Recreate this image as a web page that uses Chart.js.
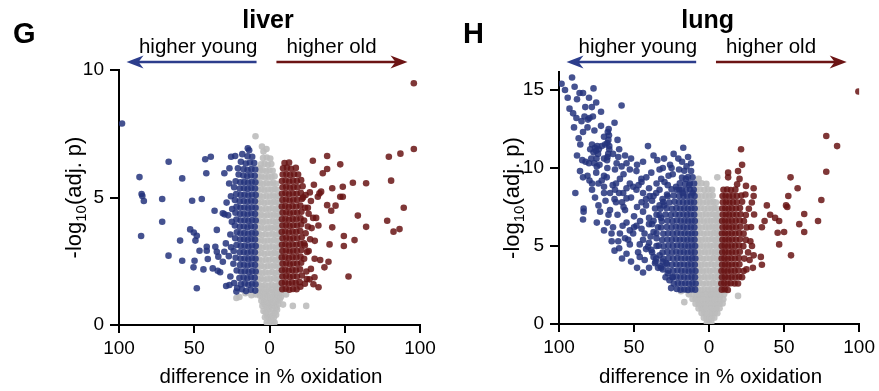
<!DOCTYPE html>
<html>
<head>
<meta charset="utf-8">
<script src="https://cdn.jsdelivr.net/npm/chart.js@4.4.1/dist/chart.umd.min.js"></script>
<style>
  html, body { margin: 0; padding: 0; background: #fff; }
  #wrap { position: relative; width: 879px; height: 391px; overflow: hidden; background: #fff; }
  #wrap canvas { position: absolute; top: 0; }
</style>
</head>
<body>
<div id="wrap">
  <canvas id="liverChart" width="440" height="391" style="left:0px"></canvas>
  <canvas id="lungChart" width="439" height="391" style="left:440px"></canvas>
</div>
<script>
// Axis ticks (both panels)
const xTicks = [-100, -50, 0, 50, 100];
const liverYTicks = [0, 5, 10];
const lungYTicks = [0, 5, 10, 15];

// ---------- liver: [difference in % oxidation, -log10(adj. p)] ----------
const liverYoung = [
  [-9.5,1.35],[-12.4,1.38],[-15.6,1.33],[-18.3,1.4],[-21.5,1.45],
  [-9.3,1.6],[-11.6,1.62],[-14.0,1.58],[-16.5,1.63],[-19.0,1.6],[-23.5,1.65],
  [-9.8,1.85],[-12.2,1.87],[-14.7,1.83],[-17.2,1.86],[-20.0,1.84],[-26.0,1.9],
  [-9.2,2.1],[-11.5,2.12],[-13.9,2.08],[-16.4,2.11],[-18.9,2.1],[-21.8,2.14],
  [-9.6,2.35],[-12.0,2.37],[-14.5,2.33],[-17.0,2.36],[-19.6,2.35],[-24.0,2.4],
  [-9.3,2.6],[-11.7,2.62],[-14.1,2.58],[-16.6,2.61],[-19.2,2.6],[-22.5,2.64],[-27.0,2.7],
  [-9.7,2.85],[-12.1,2.87],[-14.6,2.83],[-17.1,2.86],[-19.8,2.85],[-23.8,2.9],
  [-9.2,3.1],[-11.6,3.12],[-14.0,3.08],[-16.5,3.11],[-19.1,3.1],[-21.9,3.14],[-25.5,3.05],
  [-9.6,3.35],[-12.0,3.37],[-14.4,3.33],[-16.9,3.36],[-19.5,3.35],[-22.8,3.4],
  [-9.3,3.6],[-11.7,3.62],[-14.2,3.58],[-16.7,3.61],[-19.3,3.6],[-21.7,3.64],[-26.0,3.55],
  [-9.8,3.85],[-12.2,3.87],[-14.6,3.83],[-17.1,3.86],[-19.7,3.85],[-23.0,3.9],
  [-9.2,4.1],[-11.6,4.12],[-14.1,4.08],[-16.6,4.11],[-19.2,4.1],[-22.0,4.14],[-25.0,4.05],
  [-9.6,4.35],[-12.0,4.37],[-14.5,4.33],[-17.0,4.36],[-19.6,4.35],[-22.6,4.4],[-27.5,4.3],
  [-9.3,4.6],[-11.8,4.62],[-14.2,4.58],[-16.7,4.61],[-19.3,4.6],[-21.9,4.64],[-24.8,4.55],
  [-9.7,4.85],[-12.1,4.87],[-14.6,4.83],[-17.1,4.86],[-19.8,4.85],[-23.0,4.9],[-28.5,4.8],
  [-9.2,5.1],[-11.7,5.12],[-14.1,5.08],[-16.6,5.11],[-19.2,5.1],[-22.1,5.14],[-25.6,5.05],
  [-9.6,5.35],[-12.0,5.37],[-14.5,5.33],[-17.0,5.36],[-19.7,5.35],[-23.5,5.4],
  [-9.4,5.6],[-11.8,5.62],[-14.3,5.58],[-16.8,5.61],[-19.4,5.6],[-22.5,5.64],[-26.8,5.55],
  [-9.8,5.85],[-12.3,5.87],[-14.8,5.83],[-17.4,5.86],[-20.5,5.9],
  [-9.5,6.1],[-12.0,6.12],[-14.6,6.08],[-17.3,6.11],[-21.0,6.15],
  [-10.2,6.35],[-13.0,6.37],[-15.8,6.33],[-19.0,6.4],
  [-11.5,6.6],[-14.6,6.62],[-13.5,6.85],
  [-98,7.9],[-67,6.4],[-86.4,5.8],[-58,5.75],[-42.7,6.5],[-39,6.6],[-42,5.95],
  [-25.5,6.6],[-22.8,6.63],[-18.1,6.7],[-14.4,6.93],[-30,5.95],[-26.6,6.15],
  [-85,5.14],[-84.5,5.06],[-83.5,4.86],[-71.3,4.94],[-51.4,4.87],[-45,4.94],
  [-71.3,4.05],[-85.3,3.49],[-59.4,3.31],[-52.7,3.75],[-50.3,3.63],[-48.3,3.5],
  [-49.2,3.31],[-67.1,2.72],[-58,2.52],[-49.8,2.52],[-50.5,2.26],[-46.5,2.91],
  [-41.7,3.07],[-41.7,2.91],[-41,2.59],[-43.9,2.18],[-48.3,1.44],[-36.5,4.48],
  [-35,3.73],[-37.7,2.22],[-34.4,2.13],[-32.8,2.07],[-31,4.38],[-29.9,4.34],
  [-36,3.07],[-35,2.87],[-34,2.68],[-29,3.2],[-30,2.87],[-31,2.48],
  [-28.8,1.53],[-26.6,1.57],[-22,1.31]
];

const liverOld = [
  [8.5,1.4],[10.8,1.42],[13.2,1.38],[15.6,1.41],[18.0,1.4],[20.5,1.5],
  [8.2,1.65],[10.4,1.67],[12.7,1.63],[15.0,1.66],[17.4,1.65],[20.0,1.68],[23.5,1.62],
  [8.6,1.9],[10.9,1.92],[13.3,1.88],[15.7,1.91],[18.2,1.9],[21.5,1.94],
  [8.3,2.15],[10.5,2.17],[12.8,2.13],[15.2,2.16],[17.6,2.15],[20.3,2.18],[24.5,2.1],
  [8.7,2.4],[11.0,2.42],[13.4,2.38],[15.8,2.41],[18.3,2.4],[21.0,2.44],
  [8.2,2.65],[10.5,2.67],[12.9,2.63],[15.3,2.66],[17.8,2.65],[20.6,2.68],[23.0,2.6],
  [8.6,2.9],[10.9,2.92],[13.3,2.88],[15.7,2.91],[18.2,2.9],[21.2,2.94],[25.0,2.86],
  [8.3,3.15],[10.6,3.17],[13.0,3.13],[15.4,3.16],[17.9,3.15],[20.5,3.18],[23.5,3.12],
  [8.7,3.4],[11.0,3.42],[13.4,3.38],[15.8,3.41],[18.4,3.4],[21.4,3.44],[27.0,3.36],
  [8.2,3.65],[10.5,3.67],[12.9,3.63],[15.3,3.66],[17.8,3.65],[20.4,3.68],[24.0,3.6],
  [8.6,3.9],[10.9,3.92],[13.3,3.88],[15.8,3.91],[18.3,3.9],[21.0,3.94],[25.5,3.86],
  [8.3,4.15],[10.6,4.17],[13.0,4.13],[15.4,4.16],[17.9,4.15],[20.6,4.18],[23.0,4.1],[29.0,4.2],
  [8.7,4.4],[11.0,4.42],[13.4,4.38],[15.9,4.41],[18.4,4.4],[21.2,4.44],[26.0,4.36],
  [8.2,4.65],[10.5,4.67],[12.9,4.63],[15.3,4.66],[17.8,4.65],[20.5,4.68],[23.6,4.6],
  [8.6,4.9],[10.9,4.92],[13.3,4.88],[15.8,4.91],[18.3,4.9],[21.5,4.94],[27.5,4.86],
  [8.3,5.15],[10.6,5.17],[13.0,5.13],[15.5,5.16],[18.0,5.15],[20.8,5.18],[24.0,5.1],
  [8.7,5.4],[11.0,5.42],[13.5,5.38],[16.0,5.41],[18.6,5.4],[22.0,5.44],
  [8.3,5.65],[10.7,5.67],[13.1,5.63],[15.6,5.66],[18.2,5.65],[21.0,5.68],
  [8.8,5.9],[11.2,5.92],[13.7,5.88],[16.3,5.91],[19.0,5.9],
  [9.0,6.15],[11.6,6.17],[14.3,6.13],[17.5,6.16],[10.0,6.35],[13.0,6.37],
  [25.5,4.6],[28.0,3.8],[30.1,3.3],[26.0,2.9],[27.5,2.2],[24.8,1.8],[29.2,1.6],
  [31.0,4.2],[32.5,3.9],[26.8,5.2],[29.5,5.5],[23.0,3.2],[22.3,5.0],[30.0,2.6],
  [95.9,9.48],[95.9,6.9],[87,6.72],[79.3,6.6],[80.8,5.66],[28.8,6.44],[38.3,6.63],
  [47,6.3],[38.3,6.12],[35.4,5.95],[55.4,5.58],[64.2,5.56],[48.7,5.42],[41.7,5.36],
  [47,5.03],[48.7,5.03],[33.2,5.16],[32.1,5.03],[89.2,4.6],[78.2,4.09],[82.4,3.66],
  [86.4,3.76],[64.2,3.85],[58.7,4.29],[56.5,3.33],[49.4,3.49],[49.4,3.1],[52.5,1.9],
  [41.7,3.83],[39.9,3.16],[39.2,2.48],[33.7,2.55],[36.5,2.26],[38.3,4.7],[43.9,4.68],
  [41,4.48],[34.3,5.23],[32.6,1.48],[29.9,1.87],[26.6,1.79]
];

const liverNS = [
  [-1.8,0.1],[-0.4,0.05],[1.0,0.1],[2.3,0.15],[3.4,0.1],[0.3,0.2],
  [-3.0,0.3],[-1.5,0.35],[0.0,0.3],[1.6,0.35],[3.0,0.3],[4.4,0.4],
  [-4.0,0.55],[-2.6,0.5],[-1.0,0.6],[0.6,0.5],[2.1,0.6],[3.6,0.5],[5.0,0.6],
  [-4.7,0.75],[-3.2,0.8],[-1.6,0.7],[0.1,0.8],[1.5,0.75],[3.0,0.8],[4.5,0.7],[5.8,0.8],
  [15.5,0.75],[24.4,0.75],[9.0,0.8],
  [-5.4,0.95],[-3.8,0.9],[-2.2,1.0],[-0.6,0.9],[1.0,1.0],[2.6,0.9],[4.1,1.0],[5.6,0.95],[6.8,1.0],
  [-6.3,1.15],[-4.7,1.1],[-3.1,1.2],[-1.4,1.15],[0.2,1.1],[1.9,1.2],[3.5,1.1],[5.1,1.2],
  [6.5,1.15],[7.6,1.1],[-12.0,1.17],[-20.0,1.1],[-22.0,1.06],[-16.0,1.25],[-9.0,1.2],[11.0,1.2],
  [-7.2,1.35],[-5.6,1.3],[-3.9,1.4],[-2.2,1.3],[-0.5,1.35],[1.3,1.4],[3.0,1.3],[4.6,1.4],[6.1,1.35],[7.5,1.3],
  [-8.4,1.55],[-6.7,1.57],[-4.9,1.53],[-2.8,1.56],[-0.6,1.55],[1.6,1.58],[3.8,1.54],[5.6,1.56],[7.4,1.55],
  [-7.6,1.8],[-5.8,1.82],[-3.8,1.78],[-1.6,1.81],[0.6,1.8],[2.8,1.83],[4.7,1.79],[6.6,1.81],
  [-8.5,2.05],[-6.5,2.07],[-4.6,2.03],[-2.5,2.06],[-0.3,2.05],[1.9,2.08],[4.0,2.04],[5.8,2.06],[7.5,2.05],
  [-7.7,2.3],[-5.6,2.32],[-3.5,2.28],[-1.3,2.31],[0.9,2.3],[3.0,2.33],[4.9,2.29],[6.7,2.31],
  [-8.6,2.55],[-6.8,2.57],[-4.7,2.53],[-2.4,2.56],[-0.1,2.55],[2.1,2.58],[4.1,2.54],[5.9,2.56],[7.6,2.55],
  [-7.5,2.8],[-5.5,2.82],[-3.4,2.78],[-1.2,2.81],[1.0,2.8],[3.1,2.83],[5.0,2.79],[6.8,2.81],
  [-8.4,3.05],[-6.6,3.07],[-4.5,3.03],[-2.3,3.06],[0.0,3.05],[2.2,3.08],[4.2,3.04],[6.0,3.06],[7.5,3.05],
  [-7.8,3.3],[-5.7,3.32],[-3.6,3.28],[-1.4,3.31],[0.8,3.3],[2.9,3.33],[4.9,3.29],[6.6,3.31],
  [-8.5,3.55],[-6.7,3.57],[-4.8,3.53],[-2.6,3.56],[-0.3,3.55],[2.0,3.58],[4.0,3.54],[5.8,3.56],[7.4,3.55],
  [-7.6,3.8],[-5.5,3.82],[-3.3,3.78],[-1.1,3.81],[1.1,3.8],[3.2,3.83],[5.0,3.79],[6.7,3.81],
  [-8.3,4.05],[-6.4,4.07],[-4.4,4.03],[-2.2,4.06],[0.1,4.05],[2.3,4.08],[4.2,4.04],[6.0,4.06],[7.3,4.05],
  [-7.7,4.3],[-5.8,4.32],[-3.7,4.28],[-1.5,4.31],[0.7,4.3],[2.8,4.33],[4.8,4.29],[6.6,4.31],
  [-8.4,4.55],[-6.6,4.57],[-4.6,4.53],[-2.4,4.56],[-0.2,4.55],[2.0,4.58],[4.0,4.54],[5.8,4.56],[7.2,4.55],
  [-7.5,4.8],[-5.6,4.82],[-3.5,4.78],[-1.3,4.81],[0.9,4.8],[3.0,4.83],[4.9,4.79],[6.5,4.81],
  [-8.2,5.05],[-6.3,5.07],[-4.2,5.03],[-2.0,5.06],[0.3,5.05],[2.4,5.08],[4.3,5.04],[6.0,5.06],
  [-7.4,5.3],[-5.4,5.32],[-3.3,5.28],[-1.0,5.31],[1.2,5.3],[3.3,5.33],[5.1,5.29],
  [-8.0,5.55],[-6.1,5.57],[-4.0,5.53],[-1.8,5.56],[0.4,5.55],[2.5,5.58],[4.4,5.54],
  [-7.2,5.8],[-5.2,5.82],[-3.0,5.78],[-0.8,5.81],[1.4,5.8],[3.4,5.83],
  [-6.5,6.05],[-4.4,6.07],[-2.2,6.03],[0.0,6.06],[2.1,6.05],
  [-5.6,6.3],[-3.2,6.32],[-1.0,6.28],[1.2,6.31],
  [-4.3,6.55],[-1.8,6.57],[0.5,6.53],
  [-9.3,7.4],[-6.6,6.15],[-4.0,6.8],[-2.0,6.9],[-5.0,7.0]
];

// ---------- lung: [difference in % oxidation, -log10(adj. p)] ----------
const lungYoung = [
  [-9.3,2.2],[-11.6,2.22],[-14.0,2.18],[-16.5,2.21],[-19.0,2.2],[-21.5,2.24],
  [-9.0,2.6],[-11.2,2.62],[-13.5,2.58],[-15.9,2.61],[-18.3,2.6],[-20.8,2.63],[-23.5,2.59],
  [-9.4,3.0],[-11.7,3.02],[-14.1,2.98],[-16.6,3.01],[-19.1,3.0],[-21.7,3.03],[-24.5,2.99],
  [-9.1,3.4],[-11.3,3.42],[-13.6,3.38],[-16.0,3.41],[-18.5,3.4],[-21.1,3.43],[-23.9,3.39],[-27.0,3.42],
  [-9.5,3.8],[-11.8,3.82],[-14.2,3.78],[-16.7,3.81],[-19.2,3.8],[-21.8,3.83],[-24.6,3.79],[-28.0,3.82],
  [-9.2,4.2],[-11.4,4.22],[-13.7,4.18],[-16.1,4.21],[-18.6,4.2],[-21.2,4.23],[-24.0,4.19],[-27.0,4.22],[-30.5,4.18],
  [-9.6,4.6],[-11.9,4.62],[-14.3,4.58],[-16.8,4.61],[-19.3,4.6],[-21.9,4.63],[-24.7,4.59],[-27.8,4.62],[-31.0,4.58],
  [-9.3,5.0],[-11.5,5.02],[-13.8,4.98],[-16.2,5.01],[-18.7,5.0],[-21.3,5.03],[-24.1,4.99],[-27.1,5.02],[-30.3,4.98],[-33.5,5.02],
  [-9.7,5.4],[-12.0,5.42],[-14.4,5.38],[-16.9,5.41],[-19.4,5.4],[-22.0,5.43],[-24.8,5.39],[-27.9,5.42],[-31.2,5.38],
  [-9.4,5.8],[-11.6,5.82],[-13.9,5.78],[-16.3,5.81],[-18.8,5.8],[-21.4,5.83],[-24.2,5.79],[-27.3,5.82],[-30.5,5.78],[-35.0,5.82],
  [-9.8,6.2],[-12.1,6.22],[-14.5,6.18],[-17.0,6.21],[-19.5,6.2],[-22.1,6.23],[-25.0,6.19],[-28.2,6.22],[-32.0,6.18],
  [-9.5,6.6],[-11.7,6.62],[-14.0,6.58],[-16.4,6.61],[-18.9,6.6],[-21.5,6.63],[-24.4,6.59],[-27.6,6.62],[-31.5,6.58],[-37.0,6.62],
  [-9.9,7.0],[-12.2,7.02],[-14.6,6.98],[-17.1,7.01],[-19.7,7.0],[-22.4,7.03],[-25.5,6.99],[-29.0,7.02],[-33.0,6.98],
  [-9.6,7.4],[-11.8,7.42],[-14.1,7.38],[-16.6,7.41],[-19.1,7.4],[-21.8,7.43],[-24.8,7.39],[-28.3,7.42],[-32.5,7.38],
  [-10.0,7.8],[-12.3,7.82],[-14.7,7.78],[-17.3,7.81],[-20.0,7.8],[-23.0,7.83],[-26.5,7.79],[-30.5,7.82],
  [-9.7,8.2],[-12.0,8.22],[-14.5,8.18],[-17.1,8.21],[-20.0,8.2],[-23.5,8.23],[-27.5,8.19],
  [-10.2,8.6],[-12.6,8.62],[-15.2,8.58],[-18.2,8.61],[-21.5,8.6],[-25.0,8.63],
  [-10.0,9.0],[-12.8,9.02],[-16.0,8.98],[-19.5,9.01],
  [-11.0,9.4],[-14.0,9.42],[-18.0,9.38],[-12.0,9.8],[-16.5,9.82],
  [-12.0,10.3],[-15.0,10.1],[-26.0,10.2],[-14.0,10.7],
  [-98.3,15.4],[-91.3,15.8],[-89.6,15.2],[-86.3,14.8],[-94.2,14.5],[-77,15.1],[-75.2,14.2],
  [-78.1,13.9],[-82.5,13.9],[-58.3,14.0],[-90.6,13.5],[-88.4,13.2],[-83,13.3],[-79.7,13.2],
  [-77.4,13.3],[-80.7,13.1],[-66.9,12.5],[-67.5,12.3],[-66.7,12.1],[-67.1,11.8],[-67.8,11.6],
  [-84,12.3],[-76.4,12.4],[-86.9,11.9],[-85.8,11.5],
  [-78,11.5],[-76,11.3],[-74.5,11.4],[-77,11.0],[-75.3,11.1],[-73.5,11.2],[-79.2,11.2],[-74,10.9],
  [-69.3,11.5],[-71.5,11.4],[-66.5,11.2],[-66.5,11.4],[-59.9,11.2],
  [-88,10.8],[-84.5,10.5],[-82.3,10.4],[-80,10.3],[-78.5,10.6],[-75,10.6],[-76.5,10.3],
  [-67.7,10.7],[-67.2,10.9],[-68,10.5],[-40.7,11.4],[-17.2,11.3],[-23.6,10.9],[-20.5,10.6],[-34.5,10.5],
  [-60.5,10.7],[-55,10.3],[-58.3,10.1],[-62.7,9.9],[-52.8,9.9],[-67.8,10.0],[-61.6,10.3],
  [-68.2,9.4],[-64.2,8.9],[-62.7,8.6],[-59.4,9.3],[-48.4,9.8],[-45.1,9.3],[-38.5,9.7],
  [-41.8,9.4],[-31.9,9.3],[-30.8,10.0],[-33,9.9],[-24.2,9.6],[-29.7,9.1],[-27.5,8.9],
  [-22,8.8],[-19.8,8.6],[-15.4,9.3],[-13.2,8.9],[-11,8.4],[-17.6,8.4],
  [-52.8,9.0],[-50.6,8.8],[-48.4,8.6],[-44,8.4],[-39.6,8.2],[-35.2,8.4],[-57.2,8.4],[-55,8.05],
  [-81,9.5],[-79.7,9.2],[-73.7,9.0],[-75.2,9.7],[-89.1,8.4],[-74.8,10.1],[-71.5,9.2],[-66,8.4],
  [-83.6,7.4],[-83.6,7.2],[-84,6.7],[-73.7,7.6],[-72.6,7.2],[-74.8,6.5],[-67.8,6.5],
  [-64.9,5.3],[-60.5,5.3],[-59.4,5.8],[-57.6,6.3],[-59.9,4.85],[-56,5.5],[-55,4.5],
  [-52.8,5.1],[-53.9,5.4],[-52.8,6.0],[-50.6,5.8],[-48.4,6.3],[-45,6.1],
  [-47.3,4.6],[-46.2,5.1],[-46.2,4.3],[-42.9,4.1],
  [-78,9.0],[-70,8.8],[-62,9.0],[-55,8.7],[-47,8.9],[-40,8.7],[-33,8.6],[-28,8.3],
  [-76,8.1],[-69,7.9],[-63,8.0],[-58,7.8],[-52,8.1],[-45,7.8],[-38,7.9],[-33,7.6],
  [-66,7.3],[-61,7.0],[-56,7.3],[-50,6.9],[-44,7.2],[-40,6.8],[-36,7.4],
  [-64,6.2],[-55,6.5],[-43,5.8],[-40,6.4],[-37,5.9],[-34,6.2],
  [-40,5.2],[-38,4.6],[-35,5.0],[-33,4.4],[-36,3.9],
  [-40.7,4.95],[-38.5,4.75],[-35.2,4.2],[-35.6,4.0],[-32.3,3.7],[-31.9,3.6],
  [-30.8,3.5],[-28.6,3.9],[-27.5,3.25],[-25.3,2.3],[-26.4,2.8],[-24.2,3.0],
  [-42,8.0],[-37,8.2],[-31,8.0],[-48,7.5],[-42,7.6],[-35,7.0],[-30,7.6],[-46,6.6],
  [-38,6.4],[-32,6.8],[-50,6.2],[-44,5.4],[-39,5.6],[-35,5.5],[-42,4.8],[-37,4.3],
  [-34,3.6],[-29,3.0],[-31,4.0],[-57,7.5],[-62,7.8],[-67,7.0],[-70,6.0],[-65,5.8],
  [-63,4.7],[-58,4.2],[-52,4.0],[-48,3.6],[-44,3.3],[-40,3.6],[-70,8.4],[-60,8.4],
  [-45,9.1],[-35,9.0],[-27,9.5],[-20,9.9],[-25,10.0],[-18,10.4],
  [-85,13.0],[-81,12.6],[-72,12.7],[-70,12.0],[-63,12.9],[-61,11.8],[-73,10.2],[-70,10.6],
  [-64,10.9],[-56,10.8],[-52,10.6],[-48,10.2],[-44,10.4],[-37,10.8],[-30,10.6],[-90,12.6],
  [-93,13.8],[-96,15.0],[-88,14.4],[-84,14.8],[-80,14.5],[-72,13.6],[-86,9.8],[-84,9.4],
  [-78,8.6],[-70,9.5],[-57,9.6]
];

const lungOld = [
  [8.5,2.2],[10.4,2.22],[12.5,2.18],
  [8.2,2.6],[10.2,2.62],[12.3,2.58],[14.5,2.61],[17.0,2.6],
  [8.6,3.0],[10.6,3.02],[12.8,2.98],[15.0,3.01],[17.5,3.0],[20.0,3.03],
  [8.3,3.4],[10.3,3.42],[12.4,3.38],[14.7,3.41],[17.1,3.4],[19.6,3.43],[23.0,3.39],
  [8.7,3.8],[10.7,3.82],[12.9,3.78],[15.2,3.81],[17.6,3.8],[20.2,3.83],
  [8.4,4.2],[10.4,4.22],[12.6,4.18],[14.9,4.21],[17.3,4.2],[19.9,4.23],[23.5,4.19],
  [8.8,4.6],[10.8,4.62],[13.0,4.58],[15.3,4.61],[17.8,4.6],[20.5,4.63],[26.0,4.59],
  [8.5,5.0],[10.5,5.02],[12.7,4.98],[15.0,5.01],[17.4,5.0],[20.0,5.03],[22.8,4.99],
  [8.9,5.4],[10.9,5.42],[13.1,5.38],[15.4,5.41],[17.9,5.4],[20.6,5.43],[24.5,5.39],
  [8.6,5.8],[10.6,5.82],[12.8,5.78],[15.1,5.81],[17.5,5.8],[20.1,5.83],[23.0,5.79],
  [9.0,6.2],[11.0,6.22],[13.2,6.18],[15.5,6.21],[18.0,6.2],[20.8,6.23],[25.0,6.19],[28.0,6.22],
  [8.7,6.6],[10.7,6.62],[12.9,6.58],[15.2,6.61],[17.7,6.6],[20.4,6.63],[23.2,6.59],
  [9.1,7.0],[11.1,7.02],[13.3,6.98],[15.7,7.01],[18.2,7.0],[21.0,7.03],[24.5,6.99],[30.0,7.02],
  [8.8,7.4],[10.8,7.42],[13.0,7.38],[15.3,7.41],[17.9,7.4],[20.6,7.43],[26.5,7.39],
  [9.2,7.8],[11.2,7.82],[13.5,7.78],[15.9,7.81],[18.5,7.8],[22.0,7.83],[28.5,7.79],
  [9.0,8.2],[11.0,8.22],[13.3,8.18],[15.8,8.21],[18.5,8.2],[21.5,8.23],
  [9.6,8.6],[12.0,8.62],[14.5,8.58],[17.5,8.61],
  [19.3,2.6],[22,3.0],[24.9,3.5],[29.7,4.4],[28.6,5.0],[27.5,5.3],
  [74.8,7.95],[72.6,6.6],[63.4,7.05],[63.4,5.9],[60.1,6.4],[59,8.7],[52.8,8.2],[51.3,7.6],
  [52.1,7.5],[54.6,4.4],[50,5.9],[45.7,5.85],[46.7,5.1],[46.7,6.6],[44,6.8],[40.7,7.0],
  [38.5,7.6],[37,6.6],[35.2,6.2],[34.5,4.3],[35.2,3.8],[29.2,3.6],[27,4.1],
  [99.5,14.9],[78.1,12.05],[85.3,11.4],[78.1,9.76],[54.3,9.4],
  [21.3,11.2],[22,10.2],[12.7,9.7],[12.7,9.4],[19.3,9.8],[20.3,9.3],[18.7,8.95],
  [24.6,8.85],[29.7,8.7],[24.2,8.3],[29.7,8.2]
];

const lungNS = [
  [-1.5,0.1],[0.0,0.05],[1.5,0.1],
  [-3.5,0.4],[-1.8,0.42],[0.0,0.38],[1.8,0.41],[3.5,0.4],
  [-5.0,0.7],[-3.2,0.72],[-1.4,0.68],[0.4,0.71],[2.2,0.7],[4.0,0.73],[5.5,0.69],
  [-7.0,1.0],[-5.0,1.02],[-3.0,0.98],[-1.0,1.01],[1.0,1.0],[3.0,1.03],[5.0,0.99],[7.0,1.01],
  [-9.0,1.3],[-7.0,1.32],[-5.0,1.28],[-3.0,1.31],[-1.0,1.3],[1.0,1.33],[3.0,1.29],[5.0,1.31],
  [7.0,1.3],[9.0,1.32],[-16.5,1.4],
  [-11.0,1.6],[-9.0,1.62],[-7.0,1.58],[-5.0,1.61],[-3.0,1.6],[-1.0,1.63],[1.0,1.59],
  [3.0,1.61],[5.0,1.6],[7.0,1.63],[9.5,1.59],
  [-13.5,1.9],[-11.0,1.92],[-8.5,1.88],[-6.5,1.91],[-4.5,1.9],[-2.5,1.93],[-0.5,1.89],
  [1.5,1.91],[3.5,1.9],[5.5,1.93],[7.5,1.89],[10.0,1.91],[-18.7,2.1],[19.3,1.8],
  [-9.5,2.2],[-7.4,2.22],[-5.3,2.18],[-3.0,2.21],[-0.8,2.2],[1.5,2.23],[3.6,2.19],
  [5.7,2.22],[7.8,2.2],[-12.0,2.25],[-15.0,2.2],[10.5,2.15],
  [-8.5,2.6],[-6.3,2.62],[-4.1,2.58],[-1.9,2.61],[0.4,2.6],[2.6,2.63],[4.7,2.59],[6.8,2.61],
  [-9.4,3.0],[-7.3,3.02],[-5.2,2.98],[-3.0,3.01],[-0.7,3.0],[1.6,3.03],[3.7,2.99],[5.8,3.01],[7.7,3.0],
  [-8.4,3.4],[-6.2,3.42],[-4.0,3.38],[-1.8,3.41],[0.5,3.4],[2.7,3.43],[4.8,3.39],[6.8,3.41],
  [-9.3,3.8],[-7.2,3.82],[-5.1,3.78],[-2.9,3.81],[-0.6,3.8],[1.7,3.83],[3.8,3.79],[5.9,3.81],[7.6,3.8],
  [-8.3,4.2],[-6.1,4.22],[-3.9,4.18],[-1.7,4.21],[0.6,4.2],[2.8,4.23],[4.9,4.19],[6.7,4.21],
  [-9.2,4.6],[-7.1,4.62],[-5.0,4.58],[-2.8,4.61],[-0.5,4.6],[1.8,4.63],[3.9,4.59],[5.8,4.61],[7.5,4.6],
  [-8.2,5.0],[-6.0,5.02],[-3.8,4.98],[-1.5,5.01],[0.8,5.0],[2.9,5.03],[5.0,4.99],[6.8,5.01],
  [-9.1,5.4],[-7.0,5.42],[-4.8,5.38],[-2.5,5.41],[-0.2,5.4],[2.0,5.43],[4.1,5.39],[6.0,5.41],[7.5,5.4],
  [-8.1,5.8],[-5.9,5.82],[-3.6,5.78],[-1.3,5.81],[1.0,5.8],[3.1,5.83],[5.1,5.79],[6.8,5.81],
  [-9.0,6.2],[-6.9,6.22],[-4.7,6.18],[-2.3,6.21],[0.0,6.2],[2.2,6.23],[4.2,6.19],[6.1,6.21],
  [-8.0,6.6],[-5.8,6.62],[-3.5,6.58],[-1.1,6.61],[1.2,6.6],[3.3,6.63],[5.2,6.59],[7.0,6.61],
  [-8.9,7.0],[-6.7,7.02],[-4.4,6.98],[-2.0,7.01],[0.3,7.0],[2.5,7.03],[4.4,6.99],[6.2,7.01],
  [-7.9,7.4],[-5.6,7.42],[-3.2,7.38],[-0.8,7.41],[1.5,7.4],[3.5,7.43],[5.4,7.39],
  [-8.7,7.8],[-6.4,7.82],[-4.0,7.78],[-1.6,7.81],[0.7,7.8],[2.8,7.83],[4.6,7.79],
  [-9.5,8.2],[-7.5,8.22],[-5.0,8.18],[-2.4,8.21],[0.2,8.2],[2.4,8.23],
  [-8.5,8.6],[-6.0,8.62],[-3.2,8.58],[-0.5,8.61],[2.0,8.6],
  [-7.8,9.0],[-5.0,9.02],[-1.8,8.98],[5.5,9.4],[-7.0,9.3]
];

const FONT = '"Liberation Sans", Arial, Helvetica, sans-serif';
const COLORS = {
  young: 'rgba(36,52,125,0.85)',
  old: 'rgba(104,20,20,0.85)',
  ns: 'rgba(188,188,188,0.9)',
  youngArrow: '#2c3d8c',
  oldArrow: '#6c1414'
};

const toPoints = arr => arr.map(([x, y]) => ({ x, y }));

function drawArrow(ctx, x0, x1, y, color) {
  const dir = Math.sign(x1 - x0);
  ctx.strokeStyle = color;
  ctx.fillStyle = color;
  ctx.lineWidth = 2.5;
  ctx.beginPath();
  ctx.moveTo(x0, y);
  ctx.lineTo(x1 - dir * 10, y);
  ctx.stroke();
  ctx.beginPath();
  ctx.moveTo(x1, y);
  ctx.lineTo(x1 - dir * 17, y - 6.5);
  ctx.lineTo(x1 - dir * 12, y);
  ctx.lineTo(x1 - dir * 17, y + 6.5);
  ctx.closePath();
  ctx.fill();
}

// Panel letter, title, direction arrows and axis titles
const panelDecor = {
  id: 'panelDecor',
  afterDraw(chart, args, o) {
    const ctx = chart.ctx;
    const xs = chart.scales.x;
    const area = chart.chartArea;
    ctx.save();
    ctx.fillStyle = '#000';
    ctx.textBaseline = 'alphabetic';

    ctx.font = `bold 29px ${FONT}`;
    ctx.textAlign = 'left';
    ctx.fillText(o.letter, o.letterX, 43);

    ctx.font = `bold 25px ${FONT}`;
    ctx.textAlign = 'center';
    ctx.fillText(o.title, xs.getPixelForValue(-1), 28);

    ctx.font = `20.5px ${FONT}`;
    ctx.textAlign = 'right';
    ctx.fillText('higher young', xs.getPixelForValue(-8), 53);
    ctx.textAlign = 'left';
    ctx.fillText('higher old', xs.getPixelForValue(11.3), 53);

    drawArrow(ctx, xs.getPixelForValue(-8.6), xs.getPixelForValue(-95), 62, COLORS.youngArrow);
    drawArrow(ctx, xs.getPixelForValue(4.6), xs.getPixelForValue(91.7), 62, COLORS.oldArrow);

    ctx.fillStyle = '#000';
    ctx.font = `20.5px ${FONT}`;
    ctx.textAlign = 'center';
    ctx.fillText('difference in % oxidation', xs.getPixelForValue(1), 383);

    // y title: -log10(adj. p) with subscript
    const main = `22px ${FONT}`;
    const sub = `15px ${FONT}`;
    ctx.font = main;
    const w1 = ctx.measureText('-log').width;
    const w3 = ctx.measureText('(adj. p)').width;
    ctx.font = sub;
    const w2 = ctx.measureText('10').width;
    const total = w1 + w2 + w3;
    ctx.translate(o.yTitleX, (area.top + area.bottom) / 2);
    ctx.rotate(-Math.PI / 2);
    ctx.textAlign = 'left';
    let x = -total / 2;
    ctx.font = main;
    ctx.fillText('-log', x, 0);
    x += w1;
    ctx.font = sub;
    ctx.fillText('10', x, 5);
    x += w2;
    ctx.font = main;
    ctx.fillText('(adj. p)', x, 0);
    ctx.restore();
  }
};

function axisCfg(extra) {
  return Object.assign({
    type: 'linear',
    border: { display: true, color: '#000', width: 2 },
    grid: { display: true, drawOnChartArea: false, drawTicks: true, color: '#000', lineWidth: 2 },
    ticks: { color: '#000', font: { family: FONT, size: 19 }, includeBounds: false }
  }, extra);
}

function makePanel(canvasId, young, old, ns, yMax, yTicks, decor, rightPad) {
  const ctx = document.getElementById(canvasId).getContext('2d');
  const dot = 3.3;
  return new Chart(ctx, {
    type: 'scatter',
    data: {
      datasets: [
        { label: 'higher young', data: toPoints(young), backgroundColor: COLORS.young, pointRadius: dot, borderWidth: 0 },
        { label: 'higher old', data: toPoints(old), backgroundColor: COLORS.old, pointRadius: dot, borderWidth: 0 },
        { label: 'n.s.', data: toPoints(ns), backgroundColor: COLORS.ns, pointRadius: dot, borderWidth: 0 }
      ]
    },
    options: {
      responsive: false,
      animation: false,
      devicePixelRatio: 1,
      layout: { padding: { left: 0, right: rightPad, top: decor.top, bottom: 0 } },
      plugins: {
        legend: { display: false },
        tooltip: { enabled: false },
        panelDecor: decor
      },
      scales: {
        x: axisCfg({
          min: xTicks[0], max: xTicks[xTicks.length - 1],
          afterBuildTicks: s => { s.ticks = xTicks.map(v => ({ value: v })); },
          afterFit: s => { s.height = decor.xAxisHeight; },
          grid: { display: true, drawOnChartArea: false, drawTicks: true, color: '#000', lineWidth: 2, tickLength: 8 },
          ticks: { color: '#000', font: { family: FONT, size: 19 }, padding: 4, maxRotation: 0,
                   callback: v => String(Math.abs(v)) }
        }),
        y: axisCfg({
          min: 0, max: yMax,
          afterBuildTicks: s => { s.ticks = yTicks.map(v => ({ value: v })); },
          afterFit: s => { s.width = 119; },
          grid: { display: true, drawOnChartArea: false, drawTicks: true, color: '#000', lineWidth: 2, tickLength: 9 },
          ticks: { color: '#000', font: { family: FONT, size: 19 }, padding: 6 }
        })
      }
    },
    plugins: [panelDecor]
  });
}

makePanel('liverChart', liverYoung, liverOld, liverNS, 10, liverYTicks,
  { letter: 'G', letterX: 13, title: 'liver', yTitleX: 81, top: 70, xAxisHeight: 66 }, 20);
makePanel('lungChart', lungYoung, lungOld, lungNS, 16.15, lungYTicks,
  { letter: 'H', letterX: 23, title: 'lung', yTitleX: 79, top: 72, xAxisHeight: 67 }, 17);
</script>
</body>
</html>
